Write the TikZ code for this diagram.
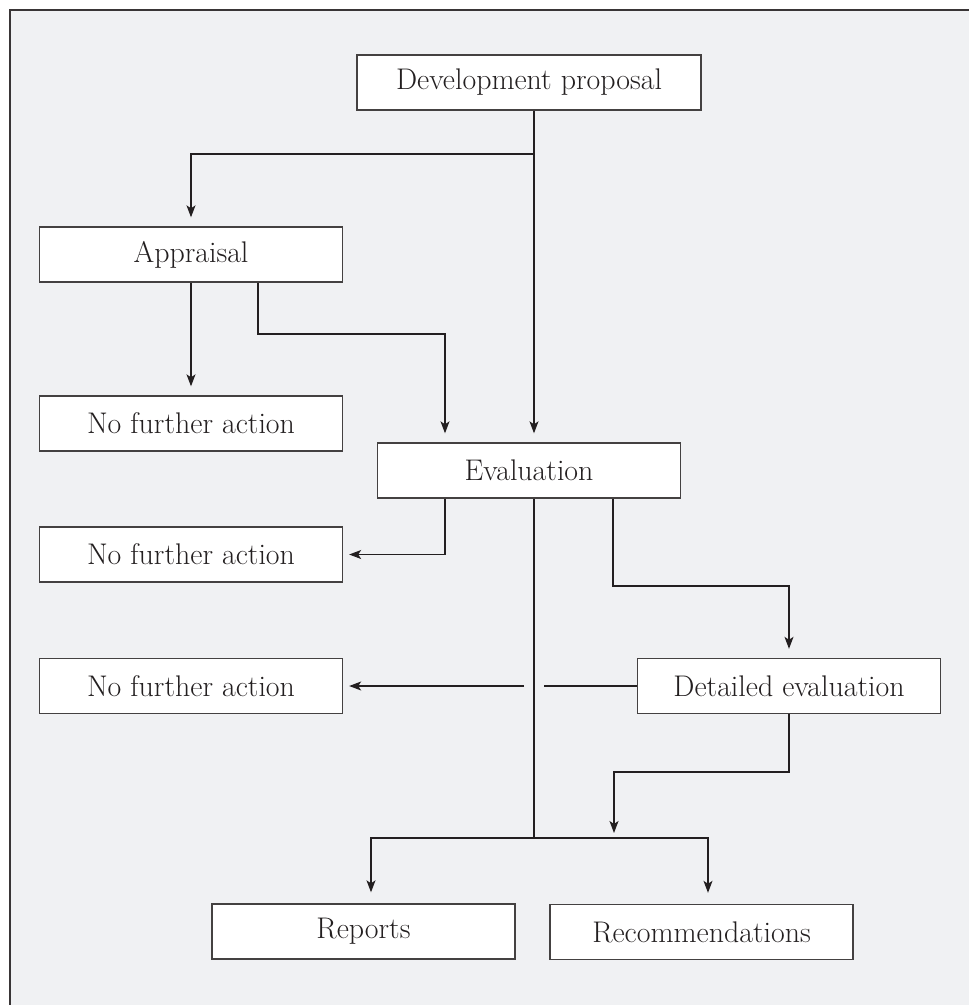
\documentclass[tikz,border=0pt]{standalone}
\usepackage{tikz}
\usetikzlibrary{arrows.meta}
\definecolor{panel}{HTML}{F0F1F3}
\definecolor{ink}{HTML}{231F20}
\tikzstyle{arrow} = [ink, line width=0.7pt, -{Stealth[length=0.24cm, width=0.18cm, inset=0.06cm]}, shorten >=0.18cm]
\tikzstyle{link} = [ink, line width=0.7pt]
\tikzstyle{stage} = [rectangle, draw=ink!85, line width=0.8pt, fill=white, minimum width=6.06cm, minimum height=1.1cm, inner sep=0pt, font=\fontsize{17}{20}\selectfont, text=ink]

\begin{document}
\begin{tikzpicture}[x=0.02cm, y=-0.02cm]
    \clip (0,0) rectangle (969,1005);
    \draw[line width=1.2pt, draw=ink!90, fill=panel] (10,10) rectangle (1000,1040);

    \node (dev_proposal) [stage, minimum width=6.88cm] at (529,82.5) {Development proposal};
    \node (appraisal) [stage] at (191,254.5) {Appraisal};
    \node (no_action_1) [stage] at (191,423.5) {No further action};
    \node (evaluation) [stage] at (529,470.5) {Evaluation};
    \node (no_action_2) [stage] at (191,554.5) {No further action};
    \node (no_action_3) [stage] at (191,686) {No further action};
    \node (detailed_eval) [stage] at (789,686) {Detailed evaluation};
    \node (reports) [stage] at (363.5,931.5) {Reports};
    \node (recommendations) [stage] at (701.5,932) {Recommendations};

    \coordinate (split) at (534,154);
    \coordinate (appraisal_turn) at (445,334);
    \coordinate (evaluation_turn) at (613,586);
    \coordinate (detailed_turn) at (614,772);
    \coordinate (join) at (534,838);

    \draw [link] (dev_proposal.south -| split) -- (split);
    \draw [arrow] (split) -- (split |- evaluation.north);
    \draw [arrow] (split) -| (appraisal.north);
    \draw [arrow] (appraisal) -- (no_action_1);
    \draw [arrow] ([xshift=1.34cm]appraisal.south) |- (appraisal_turn) -- (appraisal_turn |- evaluation.north);

    \draw [arrow, shorten >=0.12cm] (appraisal_turn |- evaluation.south) |- (no_action_2.east);
    \draw [link] (split |- evaluation.south) -- (join);
    \draw [arrow] (evaluation_turn |- evaluation.south) -- (evaluation_turn) -| (detailed_eval.north);

    \draw [link] (detailed_eval.west) -- ([xshift=0.2cm]split |- detailed_eval.west);
    \draw [arrow, shorten >=0.12cm] ([xshift=-0.2cm]split |- detailed_eval.west) -- (no_action_3.east);
    \draw [arrow, shorten >=0.1cm] (detailed_eval.south) |- (detailed_turn) -- (detailed_turn |- join);

    \draw [arrow, shorten >=0.22cm] (join) -| ([xshift=0.15cm]reports.north);
    \draw [arrow, shorten >=0.22cm] (join) -| ([xshift=0.13cm]recommendations.north);
\end{tikzpicture}
\end{document}
